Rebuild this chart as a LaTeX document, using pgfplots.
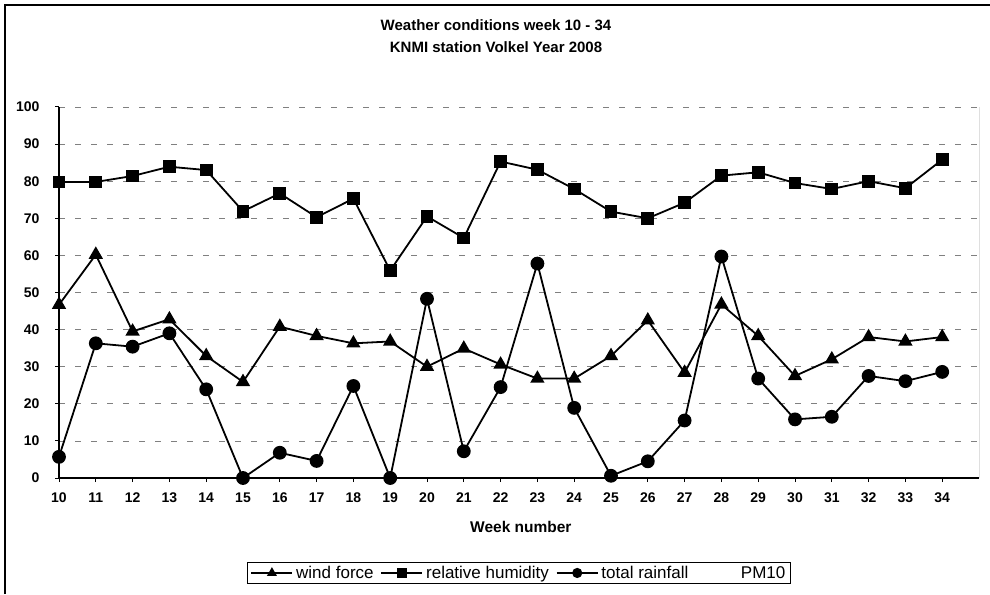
\documentclass[border=0pt]{standalone}
\usepackage{fontspec}
\setmainfont{Liberation Sans}
\usepackage{pgfplots}
\pgfplotsset{compat=1.18}
\begin{document}
\begin{tikzpicture}[x=1pt,y=1pt]
\path[use as bounding box] (0,0) rectangle (990,594);
\draw[line width=1.2pt] (5,0) -- (5,589) -- (990,589);
\node[font=\fontsize{15}{17}\selectfont\bfseries] at (496,569) {Weather conditions week 10 - 34};
\node[font=\fontsize{15}{17}\selectfont\bfseries] at (496,547) {KNMI station Volkel Year 2008};
\begin{axis}[
  at={(59pt,116pt)}, anchor=south west, scale only axis,
  width=920pt, height=371pt,
  xmin=10, xmax=35, ymin=0, ymax=100,
  xtick={10,...,34}, ytick={0,10,...,100},
  axis x line*=bottom, axis y line*=left,
  axis line style={line width=1.3pt, -},
  ymajorgrids,
  major grid style={black!50, line width=0.8pt, dash pattern=on 6pt off 10pt},
  tick align=outside, major tick length=4pt,
  tick style={black, line width=1pt},
  /pgf/number format/assume math mode=true,
  ticklabel style={font=\fontsize{14}{16}\selectfont\bfseries},
  xticklabel style={yshift=-7pt},
  yticklabel style={xshift=-12pt},
  xlabel={Week number},
  xlabel style={font=\fontsize{15.5}{17}\selectfont\bfseries, at={(axis description cs:0.502,0)}, anchor=center, yshift=-49pt},
  legend columns=4,
  legend style={at={(0.5,-0.256)}, anchor=center, draw=black, line width=1pt,
    font=\fontsize{17}{19}\selectfont, inner xsep=3pt, inner ysep=2pt,
    /tikz/every even column/.append style={column sep=5pt},
    /tikz/every odd column/.append style={column sep=1pt}},
  legend cell align=left,
  legend image code/.code={\draw[mark repeat=2, mark phase=2, #1, line width=1.5pt, mark size=4.3pt] plot coordinates {(0pt,0pt) (20.5pt,0pt) (41pt,0pt)};},
  every axis plot/.append style={line width=1.8pt, black},
]
\addplot[mark=triangle*, mark size=6.5pt, mark options={solid}] coordinates {
(10,46.7) (11,60.2) (12,39.5) (13,42.8) (14,32.9) (15,25.9) (16,40.8) (17,38.3) (18,36.3) (19,36.8) (20,30.0) (21,34.9) (22,30.6) (23,26.8) (24,26.8) (25,32.9) (26,42.5) (27,28.4) (28,46.8) (29,38.3) (30,27.5) (31,32.0) (32,38.0) (33,36.8) (34,38.0)};
\addlegendentry{wind force}
\addplot[mark=square*, mark size=5.5pt] coordinates {
(10,79.8) (11,79.8) (12,81.4) (13,83.9) (14,83.0) (15,71.9) (16,76.7) (17,70.3) (18,75.3) (19,55.9) (20,70.5) (21,64.7) (22,85.3) (23,83.1) (24,77.9) (25,71.8) (26,70.0) (27,74.2) (28,81.5) (29,82.4) (30,79.5) (31,77.9) (32,80.0) (33,78.1) (34,85.8)};
\addlegendentry{relative humidity}
\addplot[mark=*, mark size=6pt] coordinates {
(10,5.7) (11,36.3) (12,35.4) (13,39.0) (14,23.9) (15,0.0) (16,6.8) (17,4.6) (18,24.8) (19,0.0) (20,48.3) (21,7.2) (22,24.5) (23,57.8) (24,18.9) (25,0.6) (26,4.5) (27,15.5) (28,59.7) (29,26.8) (30,15.8) (31,16.5) (32,27.5) (33,26.1) (34,28.6)};
\addlegendentry{total rainfall}
\addlegendimage{white, mark=none}
\addlegendentry{PM10}
\draw[black, line width=1pt] (rel axis cs:1,0) -- (rel axis cs:1,1);
\end{axis}
\end{tikzpicture}
\end{document}
